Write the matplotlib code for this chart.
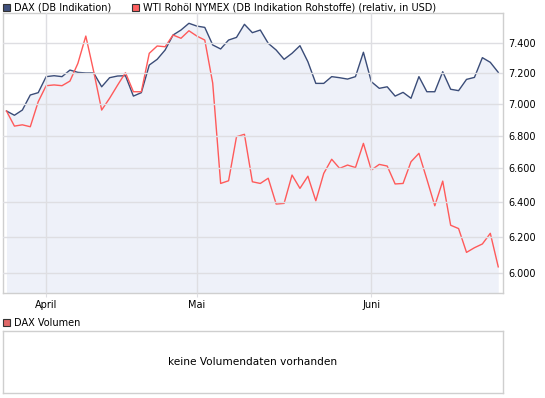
import numpy as np
import matplotlib
matplotlib.use('Agg')
import matplotlib.pyplot as plt
from matplotlib.patches import Rectangle

# DAX close and WTI (relative to DAX start), one value per trading day
dax = [6954, 6927, 6960, 7056, 7071, 7175, 7181, 7175, 7218, 7203,
       7199, 7199, 7109, 7168, 7179, 7181, 7049, 7071, 7251, 7289,
       7351, 7452, 7486, 7532, 7513, 7504, 7385, 7358, 7418, 7436,
       7525, 7468, 7486, 7396, 7351, 7289, 7329, 7380, 7273, 7131,
       7131, 7175, 7168, 7159, 7175, 7336, 7142, 7099, 7109, 7049,
       7073, 7035, 7175, 7077, 7077, 7207, 7093, 7084, 7157, 7170,
       7300, 7269, 7203]
wti = [6954, 6859, 6867, 6855, 7013, 7116, 7121, 7116, 7146, 7262,
       7445, 7207, 6960, 7035, 7119, 7201, 7077, 7077, 7329, 7378,
       7373, 7452, 7430, 7481, 7445, 7418, 7133, 6510, 6526, 6793,
       6808, 6520, 6510, 6541, 6389, 6393, 6560, 6481, 6553, 6408,
       6570, 6655, 6600, 6620, 6605, 6752, 6590, 6624, 6614, 6507,
       6510, 6640, 6691, 6535, 6379, 6524, 6267, 6248, 6114, 6140,
       6161, 6221, 6034]
month_pos = [5, 24, 46]
month_labels = ['April', 'Mai', 'Juni']
y_ticks = [6000, 6200, 6400, 6600, 6800, 7000, 7200, 7400]

days = np.arange(len(dax))

W, H = 545, 398
fig = plt.figure(figsize=(W / 100, H / 100), dpi=100)
plt.rcParams['font.family'] = 'DejaVu Sans'
fs = 7

grid_c = '#dedee2'
frame_c = '#cfcfcf'
blue = '#3a4c78'
red = '#ff5a5a'

ax = fig.add_axes([3 / W, (H - 293) / H, 500 / W, 280 / H])
ax.set_yscale('log')
ymin, ymax = 5892, 7603
ax.fill_between(days, dax, ymin, color='#eef1f9', lw=0)
ax.plot(days, dax, color=blue, lw=1.0)
ax.plot(days, wti, color=red, lw=1.0)
ax.set_ylim(ymin, ymax)
ax.set_xlim(-0.44, 62.6)

ax.yaxis.tick_right()
ax.set_yticks(y_ticks)
ax.set_yticklabels([f'{v:,.0f}'.replace(',', '.') for v in y_ticks])
ax.yaxis.set_minor_locator(matplotlib.ticker.NullLocator())
ax.set_xticks(month_pos)
ax.set_xticklabels(month_labels)
ax.tick_params(axis='y', length=0, pad=4, labelsize=fs)
ax.tick_params(axis='x', length=3, color=grid_c, pad=2, labelsize=fs)
ax.grid(True, color=grid_c, lw=1.0)
ax.set_axisbelow(False)
for s in ax.spines.values():
    s.set_color(frame_c)
    s.set_linewidth(1.0)

# legend on top
def legend_box(x, y, color, label):
    fig.patches.append(Rectangle((x / W, 1 - (y + 8) / H), 7 / W, 7 / H,
                                 transform=fig.transFigure, facecolor=color,
                                 edgecolor='#333333', lw=0.8))
    fig.text((x + 11) / W, 1 - (y + 4.5) / H, label, fontsize=fs, va='center')

legend_box(3, 3, '#3f507c', 'DAX (DB Indikation)')
legend_box(132, 3, '#ff6060', 'WTI Rohöl NYMEX (DB Indikation Rohstoffe) (relativ, in USD)')
legend_box(3, 318, '#e06868', 'DAX Volumen')

# empty volume panel
vax = fig.add_axes([3 / W, (H - 393) / H, 500 / W, 62 / H])
vax.set_xticks([])
vax.set_yticks([])
for s in vax.spines.values():
    s.set_color(frame_c)
    s.set_linewidth(1.0)
vax.text(0.5, 0.5, 'keine Volumendaten vorhanden', transform=vax.transAxes,
         ha='center', va='center', fontsize=7.6)

fig.savefig('out.png', dpi=100)
